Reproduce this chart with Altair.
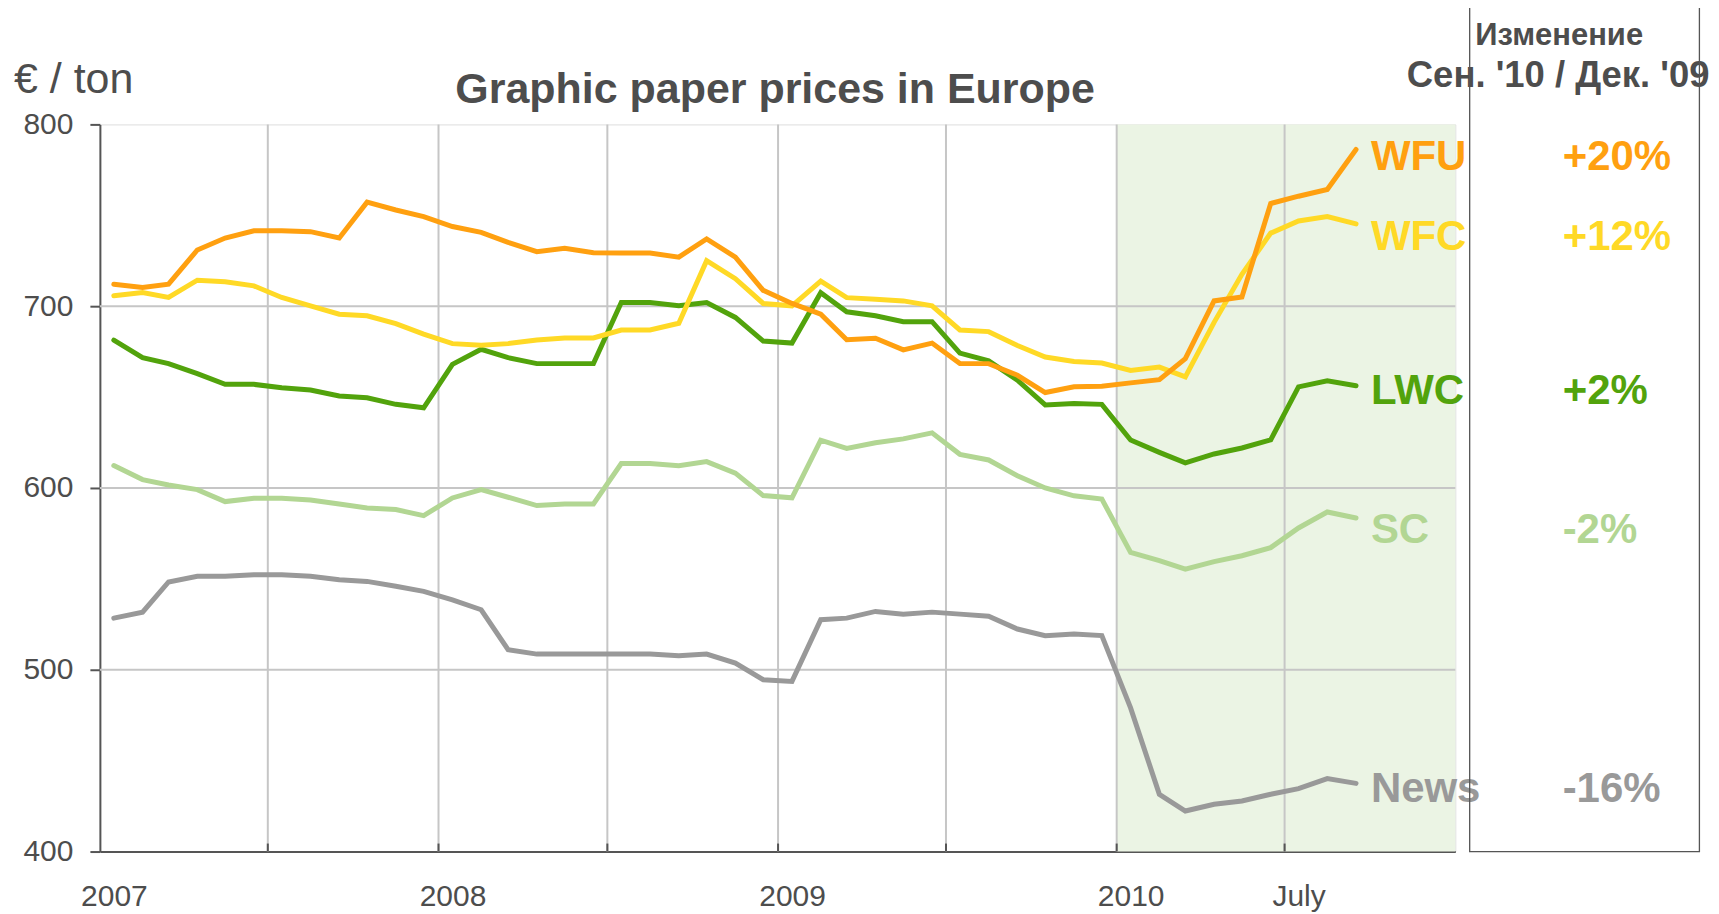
import altair as alt
import pandas as pd

# ---------------- data ----------------
years = [2007, 2008, 2009, 2010]
months = [f"{y}-{m:02d}-16" for y in years for m in range(1, 13)][:45]  # Jan 2007 .. Sep 2010 (mid-month)

series_names = ["WFU", "WFC", "LWC", "SC", "News"]
series_colors = ["#FFA010", "#FFD926", "#52A30C", "#B2D693", "#999999"]
pct_labels = ["+20%", "+12%", "+2%", "-2%", "-16%"]
label_anchor = [782.0, 738.0, 653.6, 577.0, 434.6]

wfu = [712.1, 710.3, 712.1, 730.9, 737.5, 741.5, 741.5, 741.0, 737.5, 757.2, 752.9, 749.3,
       743.8, 740.6, 735.1, 730.0, 731.8, 729.4, 729.2, 729.2, 727.0, 737.0, 727.0, 708.7,
       701.5, 695.6, 681.5, 682.4, 676.0, 679.7, 668.4, 668.4, 662.0, 652.5, 655.7, 655.9,
       657.8, 659.6, 671.1, 702.9, 705.1, 756.5, 760.5, 764.2, 786.2]
wfc = [705.7, 707.5, 704.8, 714.3, 713.4, 711.2, 704.8, 700.2, 695.6, 694.7, 690.4, 684.6,
       679.4, 678.5, 679.4, 681.4, 682.5, 682.5, 686.9, 686.9, 690.6, 725.0, 715.1, 701.5,
       700.2, 713.8, 704.7, 703.8, 702.9, 700.2, 686.9, 686.0, 678.4, 672.0, 669.6, 668.7,
       664.6, 666.5, 661.1, 691.1, 717.5, 740.2, 746.9, 749.3, 745.3]
lwc = [681.3, 671.7, 668.4, 662.9, 657.0, 657.0, 655.1, 653.9, 650.6, 649.6, 646.0, 644.1,
       668.0, 676.3, 671.7, 668.4, 668.4, 668.4, 702.0, 702.0, 700.2, 702.0, 693.8, 680.8,
       679.7, 707.4, 696.9, 694.7, 691.5, 691.5, 674.2, 669.9, 659.3, 645.7, 646.5, 646.0,
       626.4, 619.6, 613.8, 618.7, 622.0, 626.5, 655.6, 658.9, 656.2]
sc = [612.3, 604.6, 601.6, 599.1, 592.5, 594.3, 594.3, 593.4, 591.2, 589.0, 588.1, 584.8,
      594.5, 599.1, 594.9, 590.3, 591.2, 591.2, 613.4, 613.4, 612.2, 614.5, 608.2, 595.8,
      594.6, 626.3, 621.8, 624.9, 627.0, 630.3, 618.5, 615.4, 606.7, 600.0, 595.7, 593.9,
      564.5, 560.0, 555.3, 559.5, 562.7, 567.2, 578.0, 586.8, 583.5]
news = [528.4, 531.7, 548.3, 551.4, 551.4, 552.3, 552.3, 551.4, 549.5, 548.6, 545.9, 543.1,
        538.5, 533.0, 511.0, 508.6, 508.6, 508.6, 508.6, 508.6, 507.7, 508.6, 503.7, 494.5,
        493.6, 527.5, 528.4, 532.1, 530.6, 531.7, 530.6, 529.4, 522.4, 518.7, 519.6, 518.8,
        479.0, 431.5, 422.3, 426.0, 427.8, 431.5, 434.6, 440.1, 437.5]

grid_dates = ["2007-07-01", "2008-01-01", "2008-07-01", "2009-01-01", "2009-07-01",
              "2010-01-01", "2010-07-01"]
y_grid = [500, 600, 700]
band_start, band_end = "2010-01-01", "2011-01-01"
label_date = "2010-10-02"

title_text = "Graphic paper prices in Europe"
unit_text = "€ / ton"
header_1 = "Изменение"
header_2 = "Сен. '10 / Дек. '09"

# ---------------- build ----------------
W, H = 1357, 728
FONT = "Liberation Sans"
TXT = "#4d4d4d"

values = {"WFU": wfu, "WFC": wfc, "LWC": lwc, "SC": sc, "News": news}
draw_order = ["News", "SC", "LWC", "WFC", "WFU"]
rows = []
for name in draw_order:
    for d, v in zip(months, values[name]):
        rows.append({"date": d, "series": name, "value": v, "order": draw_order.index(name)})
df = pd.DataFrame(rows)

labels_df = pd.DataFrame({"series": series_names, "y": label_anchor, "pct": pct_labels,
                          "date": [label_date] * len(series_names)})

xscale = alt.Scale(type="utc",
                   domain=[alt.DateTime(year=2007, month=1, date=1, utc=True),
                           alt.DateTime(year=2011, month=1, date=1, utc=True)])
yscale = alt.Scale(domain=[400, 800], nice=False, zero=False)
cscale = alt.Scale(domain=series_names, range=series_colors)

tick_vals = [alt.DateTime(year=y, month=m, date=1, utc=True)
             for y in years for m in (1, 7)]

x_axis = alt.Axis(values=tick_vals,
                  labelExpr="utcmonth(datum.value) == 0 ? utcFormat(datum.value, '%Y') : (utcyear(datum.value) == 2010 ? 'July' : '')",
                  labelOffset=14, labelFlush=False, labelOverlap=False,
                  labelFontSize=30, labelColor=TXT, labelFont=FONT, labelPadding=30,
                  ticks=False, tickSize=0, grid=False, domainColor="#555555", domainWidth=2,
                  title=None)
y_axis = alt.Axis(values=[400, 500, 600, 700, 800], labelFontSize=30, labelColor=TXT,
                  labelFont=FONT, labelPadding=17, tickSize=10, tickWidth=2,
                  tickColor="#555555", domainColor="#555555", domainWidth=2,
                  grid=False, title=None)

band = alt.Chart(pd.DataFrame({"s": [band_start], "e": [band_end]})).mark_rect(
    color="#EBF4E4").encode(
    x=alt.X("s:T", scale=xscale, axis=x_axis),
    x2="e:T",
    y=alt.Y("lo:Q", scale=yscale, axis=y_axis),
    y2="hi:Q",
).transform_calculate(lo="400", hi="800")

vgrid = alt.Chart(pd.DataFrame({"d": grid_dates})).mark_rule(
    color="#C6C6C6", strokeWidth=2).encode(x=alt.X("d:T", scale=xscale))
hgrid = alt.Chart(pd.DataFrame({"v": y_grid})).mark_rule(
    color="#C6C6C6", strokeWidth=2).encode(y=alt.Y("v:Q", scale=yscale))
xticks = alt.Chart(pd.DataFrame({"d": grid_dates})).mark_rule(
    color="#555555", strokeWidth=2).encode(
    x=alt.X("d:T", scale=xscale), y=alt.value(H), y2=alt.value(H - 8))

lines = alt.Chart(df).mark_line(strokeWidth=5, strokeCap="round").encode(
    x=alt.X("date:T", scale=xscale),
    y=alt.Y("value:Q", scale=yscale),
    color=alt.Color("series:N", scale=cscale, legend=None),
    detail="series:N",
    order="order:Q",
)

name_text = alt.Chart(labels_df).mark_text(
    align="left", baseline="middle", fontSize=42, fontWeight="bold", font=FONT).encode(
    x=alt.X("date:T", scale=xscale), y=alt.Y("y:Q", scale=yscale),
    color=alt.Color("series:N", scale=cscale, legend=None), text="series:N")
pct_text = alt.Chart(labels_df).mark_text(
    align="left", baseline="middle", fontSize=42, fontWeight="bold", font=FONT, dx=192).encode(
    x=alt.X("date:T", scale=xscale), y=alt.Y("y:Q", scale=yscale),
    color=alt.Color("series:N", scale=cscale, legend=None), text="pct:N")


def free_text(txt, x, y, size, bold=False, align="center"):
    return alt.Chart(pd.DataFrame({"t": [txt]})).mark_text(
        align=align, baseline="alphabetic", fontSize=size,
        fontWeight="bold" if bold else "normal", font=FONT, color=TXT).encode(
        x=alt.value(x), y=alt.value(y), text="t:N")


title = free_text(title_text, 676, -21.5, 43, bold=True)
unit = free_text(unit_text, -86, -31, 43, align="left")
head1 = free_text(header_1, 1461, -79, 31, bold=True)
head2 = free_text(header_2, 1460, -37.5, 36.5, bold=True)

box = alt.Chart(pd.DataFrame({"a": [0]})).mark_rect(
    fillOpacity=0, stroke="#555555", strokeWidth=1.3).encode(
    x=alt.value(1371.4), x2=alt.value(1601.4), y=alt.value(-117.2), y2=alt.value(H))

chart = alt.layer(band, vgrid, hgrid, xticks, lines, name_text, pct_text,
                  title, unit, head1, head2, box).properties(
    width=W, height=H,
    autosize=alt.AutoSizeParams(type="none"),
    padding={"left": 92, "top": 116, "right": 256, "bottom": 62},
).configure_view(stroke="#555555", strokeWidth=2).configure(background="white")

chart.save("out.html", embed_options={"renderer": "svg", "actions": False})
